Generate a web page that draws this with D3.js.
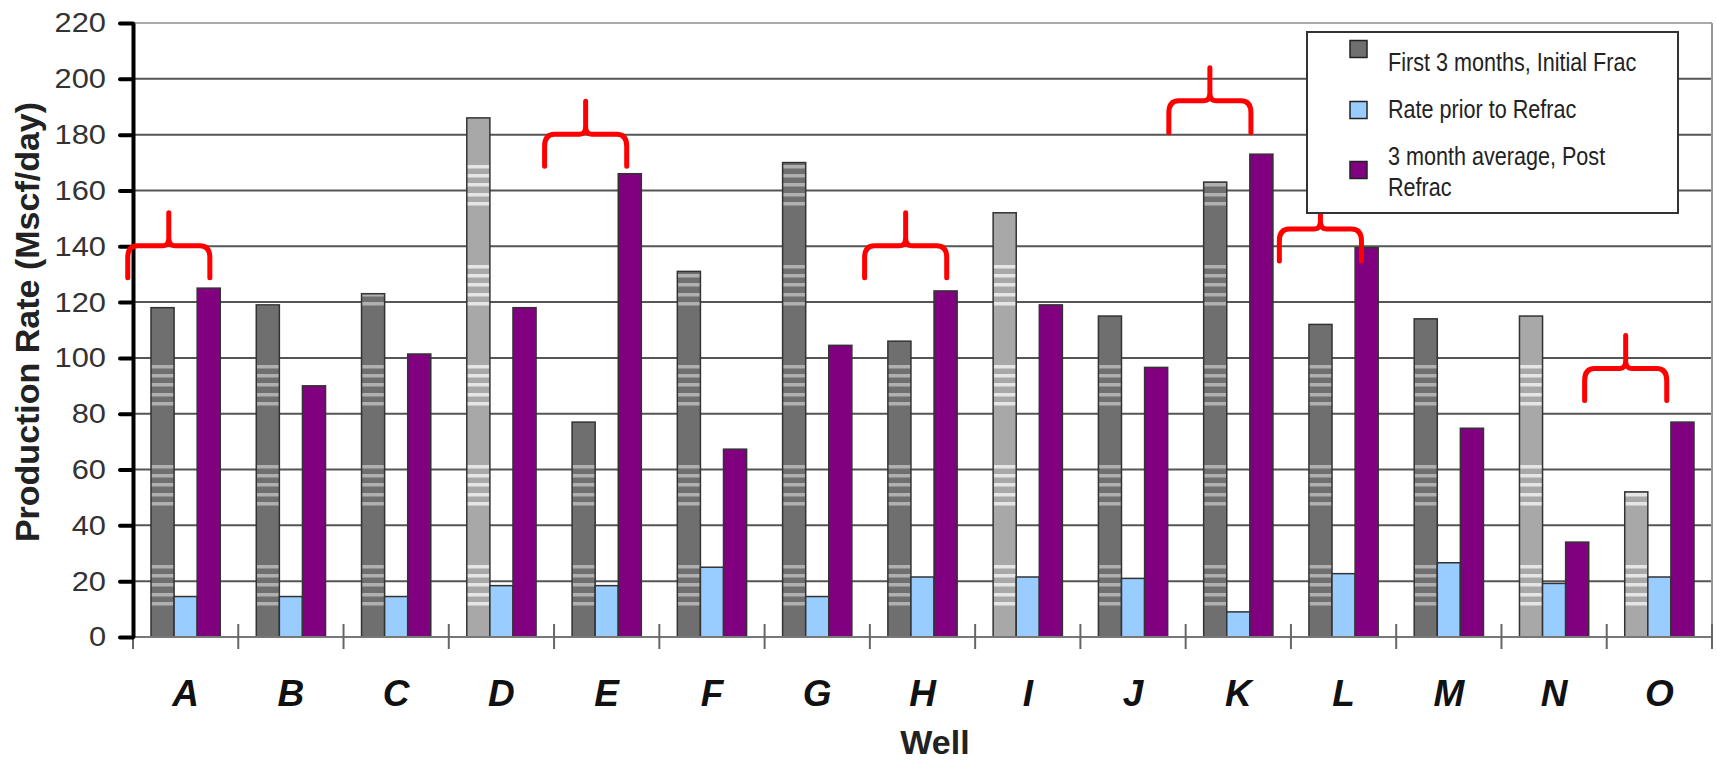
<!DOCTYPE html>
<html lang="en">
<head>
<meta charset="utf-8">
<title>Production Rate by Well</title>
<script src="https://d3js.org/d3.v7.min.js"></script>
<style>
body { margin: 0; background: #fff; }
svg { display: block; font-family: "Liberation Sans", Arial, sans-serif; }
</style>
</head>
<body>
<div id="container"></div>
<script>
// values (Mscf/day)
const wells = ["A", "B", "C", "D", "E", "F", "G", "H", "I", "J", "K", "L", "M", "N", "O"];
const initialFrac = [118, 119, 123, 186, 77, 131, 170, 106, 152, 115, 163, 112, 114, 115, 52];
const priorRefrac = [14.5, 14.5, 14.5, 18.4, 18.4, 25, 14.5, 21.5, 21.5, 21, 9, 22.7, 26.6, 19.2, 21.5];
const postRefrac = [125, 90, 101.4, 118, 166, 67.3, 104.5, 124, 119, 96.6, 173, 139.5, 74.8, 34, 77];
const lightWells = ["D", "I", "N", "O"];
const yTicks = [0, 20, 40, 60, 80, 100, 120, 140, 160, 180, 200, 220];
const seriesNames = ["First 3 months, Initial Frac", "Rate prior to Refrac", "3 month average, Post Refrac"];
const legendLines = [["First 3 months, Initial Frac"], ["Rate prior to Refrac"], ["3 month average, Post", "Refrac"]];
// red brace annotations: well, value at the brace tip, centre as fraction of the slot
const braceWells = ["A", "E", "H", "K", "L", "O"];
const braceTops = [152, 192, 152, 204, 158, 108];
const braceShift = [0.34, 0.30, 0.34, 0.23, 0.28, 0.18];

const width = 1717, height = 761;
const plotLeft = 133, plotRight = 1712, plotTop = 23, plotBase = 637;

const svg = d3.select("#container").append("svg")
    .attr("width", width)
    .attr("height", height);

const x = d3.scaleBand().domain(wells).range([plotLeft, plotRight])
    .paddingInner(0.342).paddingOuter(0.171);
const xs = d3.scaleBand().domain([0, 1, 2]).range([0, x.bandwidth()]);
const y = d3.scaleLinear().domain([0, 220]).range([plotBase, plotTop]);
const step = x.step();
const slotStart = w => x(w) - x.paddingOuter() * step;

// stripe patterns for the grey bars
const defs = svg.append("defs");
[["stripeDark", "#6f6f6f", 0.45], ["stripeLight", "#a8a8a8", 0.7]].forEach(function(p) {
    const pat = defs.append("pattern")
        .attr("id", p[0])
        .attr("patternUnits", "userSpaceOnUse")
        .attr("x", 0).attr("y", y(0))
        .attr("width", 10).attr("height", 100);
    pat.append("rect").attr("width", 10).attr("height", 100).attr("fill", p[1]);
    [28, 37, 46, 56, 65].forEach(function(ly) {
        pat.append("rect").attr("y", ly).attr("width", 10).attr("height", 3.5)
            .attr("fill", "#fff").attr("opacity", p[2]);
    });
});

// gridlines
svg.append("g").selectAll("line")
    .data(yTicks.slice(1))
    .enter().append("line")
    .attr("x1", plotLeft).attr("x2", plotRight)
    .attr("y1", d => y(d)).attr("y2", d => y(d))
    .attr("stroke", d => d === 220 ? "#aaa" : "#555")
    .attr("stroke-width", 2);

svg.append("line")
    .attr("x1", plotRight).attr("x2", plotRight)
    .attr("y1", y(220)).attr("y2", y(0))
    .attr("stroke", "#999").attr("stroke-width", 2);

// bars
const rows = wells.map((w, i) => ({ well: w, vals: [initialFrac[i], priorRefrac[i], postRefrac[i]] }));
const groups = svg.append("g").selectAll("g")
    .data(rows)
    .enter().append("g")
    .attr("transform", d => "translate(" + x(d.well) + ",0)");

groups.selectAll("rect")
    .data(d => d.vals.map((v, k) => ({ well: d.well, k: k, v: v })))
    .enter().append("rect")
    .attr("x", d => xs(d.k))
    .attr("width", xs.bandwidth())
    .attr("y", d => y(d.v))
    .attr("height", d => y(0) - y(d.v))
    .attr("fill", function(d) {
        if (d.k === 1) return "#99ccff";
        if (d.k === 2) return "#800080";
        return lightWells.includes(d.well) ? "url(#stripeLight)" : "url(#stripeDark)";
    })
    .attr("stroke", "#333")
    .attr("stroke-width", 1.5);

// x axis
svg.append("line")
    .attr("x1", plotLeft).attr("x2", plotRight)
    .attr("y1", y(0)).attr("y2", y(0))
    .attr("stroke", "#777").attr("stroke-width", 2);

const bounds = wells.map(slotStart).concat([slotStart(wells[wells.length - 1]) + step]);
svg.append("g").selectAll("line")
    .data(bounds)
    .enter().append("line")
    .attr("x1", d => d).attr("x2", d => d)
    .attr("y1", y(0) - 13).attr("y2", y(0) + 12)
    .attr("stroke", "#666").attr("stroke-width", 2);

svg.append("g").selectAll("text")
    .data(wells)
    .enter().append("text")
    .attr("x", d => x(d) + x.bandwidth() / 2)
    .attr("y", 706)
    .attr("text-anchor", "middle")
    .attr("font-size", 37)
    .attr("font-weight", "bold")
    .attr("font-style", "italic")
    .attr("fill", "#111")
    .text(d => d);

svg.append("text")
    .attr("x", 935).attr("y", 754)
    .attr("text-anchor", "middle")
    .attr("font-size", 34)
    .attr("font-weight", "bold")
    .attr("fill", "#222")
    .text("Well");

// y axis
const yaxis = d3.axisLeft(y)
    .tickValues(yTicks)
    .tickSizeInner(13)
    .tickSizeOuter(0)
    .tickPadding(14);

const ya = svg.append("g")
    .attr("transform", "translate(" + plotLeft + ",0)")
    .call(yaxis);
ya.select(".domain").attr("stroke", "#000").attr("stroke-width", 4);
ya.selectAll(".tick line").attr("stroke", "#000").attr("stroke-width", 4).attr("stroke-linecap", "round");
ya.selectAll(".tick text")
    .attr("font-size", 28)
    .attr("font-family", "Liberation Sans, Arial, sans-serif")
    .attr("fill", "#333")
    .each(function() {
        const t = d3.select(this);
        t.attr("textLength", this.getComputedTextLength() * 1.1).attr("lengthAdjust", "spacingAndGlyphs");
    });

svg.append("text")
    .attr("transform", "translate(39,322) rotate(-90)")
    .attr("text-anchor", "middle")
    .attr("font-size", 34)
    .attr("font-weight", "bold")
    .attr("fill", "#222")
    .text("Production Rate (Mscf/day)");

// red braces
function bracePath(cx, ty, w) {
    const h = 65, hw = w / 2, hy = ty + 33;
    return "M" + (cx - hw) + "," + (ty + h) +
        " L" + (cx - hw) + "," + (hy + 12) +
        " Q" + (cx - hw) + "," + hy + " " + (cx - hw + 10) + "," + hy +
        " L" + (cx - 6) + "," + hy +
        " Q" + cx + "," + hy + " " + cx + "," + (hy - 8) +
        " L" + cx + "," + ty +
        " M" + cx + "," + (hy - 8) +
        " Q" + cx + "," + hy + " " + (cx + 6) + "," + hy +
        " L" + (cx + hw - 10) + "," + hy +
        " Q" + (cx + hw) + "," + hy + " " + (cx + hw) + "," + (hy + 12) +
        " L" + (cx + hw) + "," + (ty + h);
}

svg.append("g").selectAll("path")
    .data(braceWells.map((w, i) => ({ well: w, tip: braceTops[i], shift: braceShift[i] })))
    .enter().append("path")
    .attr("d", d => bracePath(slotStart(d.well) + d.shift * step, y(d.tip), 0.78 * step))
    .attr("fill", "none")
    .attr("stroke", "#ff0000")
    .attr("stroke-width", 5)
    .attr("stroke-linecap", "round")
    .attr("stroke-linejoin", "round");

// legend
const legend = svg.append("g");
legend.append("rect")
    .attr("x", 1307).attr("y", 32)
    .attr("width", 371).attr("height", 181)
    .attr("fill", "#fff")
    .attr("stroke", "#333").attr("stroke-width", 2);

const swatchFill = ["#6f6f6f", "#99ccff", "#800080"];
const swatchY = [49, 110, 170];
const textY = [[71], [118], [165, 196]];

seriesNames.forEach(function(name, i) {
    legend.append("rect")
        .attr("x", 1350).attr("y", swatchY[i] - 8.5)
        .attr("width", 17).attr("height", 17)
        .attr("fill", swatchFill[i])
        .attr("stroke", "#222").attr("stroke-width", 1.5);
    legendLines[i].forEach(function(line, j) {
        const t = legend.append("text")
            .attr("x", 1388).attr("y", textY[i][j])
            .attr("font-size", 26)
            .attr("fill", "#222")
            .text(line);
        t.attr("textLength", t.node().getComputedTextLength() * 0.83).attr("lengthAdjust", "spacingAndGlyphs");
    });
});
</script>
</body>
</html>
